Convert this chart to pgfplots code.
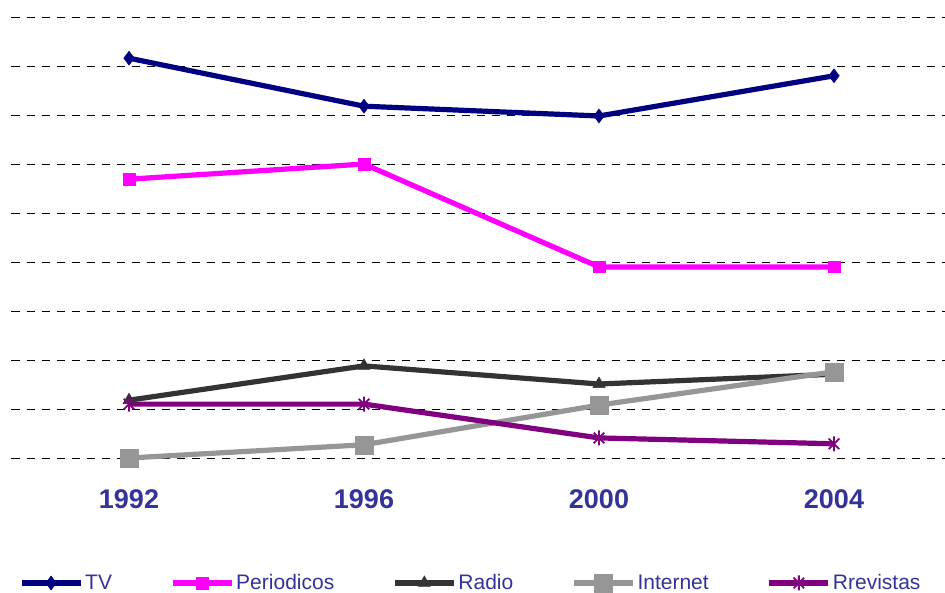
\documentclass[border=0pt]{standalone}
\usepackage{pgfplots}
\pgfplotsset{compat=1.18}
\usepackage{fontspec}
\setmainfont{Liberation Sans}
\definecolor{tvc}{RGB}{0,0,128}
\definecolor{perc}{RGB}{255,0,255}
\definecolor{radc}{RGB}{51,51,51}
\definecolor{intc}{RGB}{150,150,150}
\definecolor{revc}{RGB}{128,0,128}
\definecolor{txtc}{RGB}{51,51,153}
\pgfdeclareplotmark{xstar}{%
  \pgfpathmoveto{\pgfqpoint{-0.707\pgfplotmarksize}{-0.707\pgfplotmarksize}}%
  \pgfpathlineto{\pgfqpoint{0.707\pgfplotmarksize}{0.707\pgfplotmarksize}}%
  \pgfpathmoveto{\pgfqpoint{-0.707\pgfplotmarksize}{0.707\pgfplotmarksize}}%
  \pgfpathlineto{\pgfqpoint{0.707\pgfplotmarksize}{-0.707\pgfplotmarksize}}%
  \pgfpathmoveto{\pgfqpoint{0pt}{-\pgfplotmarksize}}%
  \pgfpathlineto{\pgfqpoint{0pt}{\pgfplotmarksize}}%
  \pgfusepathqstroke}
\begin{document}
\begin{tikzpicture}
\path[use as bounding box] (-11.5pt,-134pt) rectangle (933.5pt,458pt);
\begin{axis}[
  scale only axis,
  width=940pt, height=441pt,
  xmin=-0.5, xmax=3.5, ymin=0, ymax=90,
  clip=false,
  axis line style={draw=none},
  major tick length=0pt,
  xtick={0,1,2,3},
  xticklabels={1992,1996,2000,2004},
  xticklabel style={font=\fontsize{27}{32}\selectfont\bfseries, text=txtc, anchor=center, yshift=-41pt},
  ytick={0,10,...,90},
  yticklabels={},
  ymajorgrids,
  grid style={black, line width=0.9pt, dash pattern=on 8pt off 7pt},
  every axis plot/.append style={line width=5.2pt},
  legend columns=5,
  legend style={draw=none, fill=none, inner sep=0pt, outer sep=0pt,
    at={(0.00798,-0.2834)}, anchor=west,
    font=\fontsize{21}{25}\selectfont, text=txtc,
    nodes={inner sep=1pt},
    /tikz/every odd column/.append style={column sep=1pt},
    /tikz/every even column/.append style={column sep=57pt}},
  legend image code/.code={\draw[mark repeat=2,mark phase=2,#1] plot coordinates {(0pt,0pt) (29.5pt,0pt) (59pt,0pt)};},
]
\addplot[tvc, mark=diamond*, mark size=7pt, mark options={line width=0.5pt}] coordinates {(0,81.6) (1,71.8) (2,69.8) (3,78.0)};
\addlegendentry{TV}
\addplot[perc, mark=square*, mark size=5.8pt, mark options={line width=0.5pt}] coordinates {(0,56.9) (1,60.0) (2,39.0) (3,39.0)};
\addlegendentry{Periodicos}
\addplot[radc, mark=triangle*, mark size=7pt, mark options={line width=0.5pt}] coordinates {(0,11.8) (1,18.8) (2,15.1) (3,17.1)};
\addlegendentry{Radio}
\addplot[intc, mark=square*, mark size=9pt, mark options={line width=0.5pt}] coordinates {(0,0.0) (1,2.7) (2,10.8) (3,17.6)};
\addlegendentry{Internet}
\addplot[revc, mark=xstar, mark size=7.5pt, mark options={line width=1.8pt}] coordinates {(0,11.0) (1,11.0) (2,4.1) (3,2.9)};
\addlegendentry{Rrevistas}
\end{axis}
\end{tikzpicture}
\end{document}
